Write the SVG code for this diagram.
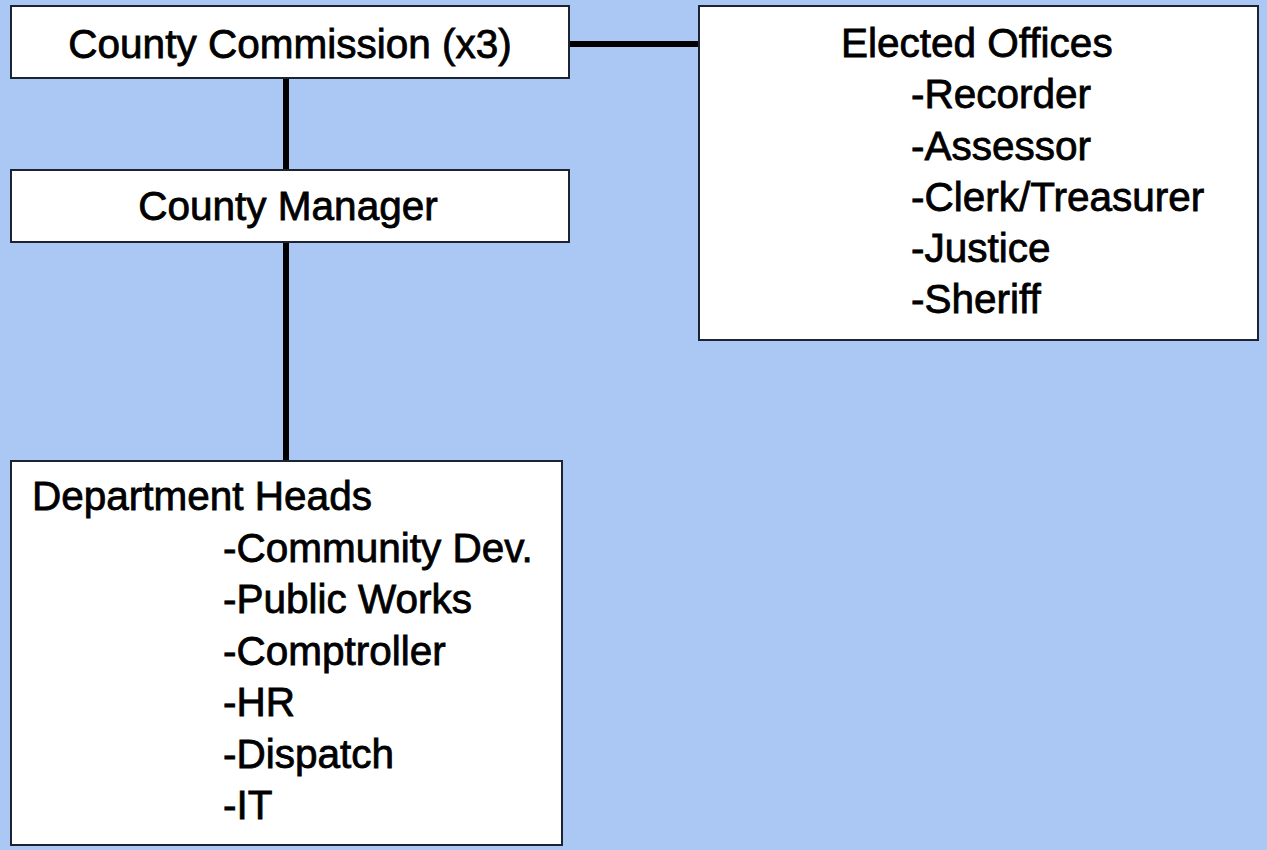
<svg xmlns="http://www.w3.org/2000/svg" width="1267" height="850" viewBox="0 0 1267 850">
<style>
.box{fill:#ffffff;stroke:#1c2433;stroke-width:2}
.conn{stroke:#000000;stroke-width:6;fill:none}
text{font-family:"Liberation Sans",Arial,sans-serif;font-size:40.5px;fill:#000000;stroke:#000000;stroke-width:0.8}
.c{text-anchor:middle}
</style>
<rect x="0" y="0" width="1267" height="850" fill="#abc8f4"/>
<g id="connectors">
<line class="conn" x1="286" y1="78" x2="286" y2="170"/>
<line class="conn" x1="286" y1="242" x2="286" y2="461"/>
<line class="conn" x1="569" y1="44" x2="699" y2="44"/>
</g>
<g id="county-commission">
<rect class="box" x="11" y="6" width="558" height="72"/>
<text class="c" x="290" y="58">County Commission (x3)</text>
</g>
<g id="county-manager">
<rect class="box" x="11" y="170" width="558" height="72"/>
<text class="c" x="288" y="220">County Manager</text>
</g>
<g id="elected-offices">
<rect class="box" x="699" y="6" width="559" height="334"/>
<text x="841" y="57">Elected Offices</text>
<text x="911" y="108">-Recorder</text>
<text x="911" y="160">-Assessor</text>
<text x="911" y="211">-Clerk/Treasurer</text>
<text x="911" y="262">-Justice</text>
<text x="911" y="313">-Sheriff</text>
</g>
<g id="department-heads">
<rect class="box" x="11" y="461" width="551" height="384"/>
<text x="32" y="510">Department Heads</text>
<text x="223" y="562">-Community Dev.</text>
<text x="223" y="613">-Public Works</text>
<text x="223" y="665">-Comptroller</text>
<text x="223" y="716">-HR</text>
<text x="223" y="768">-Dispatch</text>
<text x="223" y="819">-IT</text>
</g>
</svg>
